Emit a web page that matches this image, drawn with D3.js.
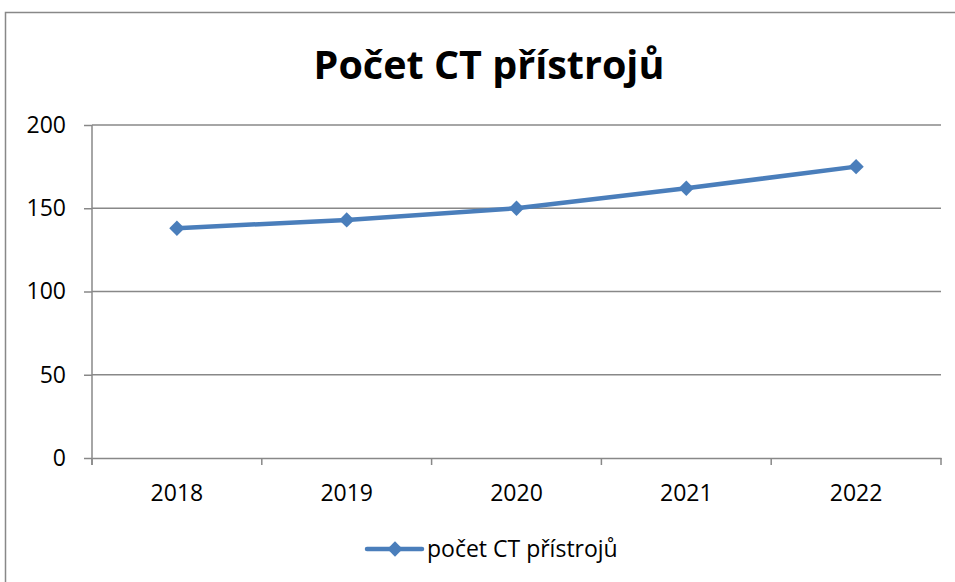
<!DOCTYPE html>
<html>
<head>
<meta charset="utf-8">
<script src="https://cdn.jsdelivr.net/npm/d3@7"></script>
<style>
  body { margin: 0; background: #fff; }
  svg { display: block; font-family: "Open Sans", sans-serif; }
</style>
</head>
<body>
<div id="chart"></div>
<script>
const years = ["2018", "2019", "2020", "2021", "2022"];
const counts = [138, 143, 150, 162, 175];
const yTicks = [0, 50, 100, 150, 200];
const seriesName = "počet CT přístrojů";
const chartTitle = "Počet CT přístrojů";

const W = 955, H = 582;
const margin = { top: 125, left: 92, bottom: 124, right: 14 };
const width = W - margin.left - margin.right;
const height = H - margin.top - margin.bottom;
const blue = "#4a7ebb";
const grey = "#888";
const font = "'Open Sans', sans-serif";

const svg = d3.select("#chart")
              .append("svg")
              .attr("width", W)
              .attr("height", H);

// outer chart border
svg.append("rect")
   .attr("x", 5.5)
   .attr("y", 12.5)
   .attr("width", W + 10)
   .attr("height", H + 10)
   .attr("fill", "none")
   .attr("stroke", grey)
   .attr("stroke-width", 1.5);

svg.append("text")
   .attr("x", 489)
   .attr("y", 79)
   .attr("text-anchor", "middle")
   .attr("font-size", "39.5px")
   .attr("font-weight", "bold")
   .text(chartTitle);

const g = svg.append("g")
             .attr("transform", `translate(${margin.left}, ${margin.top})`);

const xScale = d3.scaleBand()
                 .domain(years)
                 .range([0, width]);

const yScale = d3.scaleLinear()
                 .domain([0, 200])
                 .range([height, 0]);

// gridlines
g.append("g")
 .selectAll("line")
 .data(yTicks.filter(d => d > 0))
 .join("line")
 .attr("x1", 0)
 .attr("x2", width)
 .attr("y1", d => yScale(d))
 .attr("y2", d => yScale(d))
 .attr("stroke", grey)
 .attr("stroke-width", 1.5);

const yAxis = g.append("g")
               .call(d3.axisLeft(yScale).tickValues(yTicks).tickSize(8).tickPadding(18));

const xAxis = g.append("g")
               .attr("transform", `translate(0, ${height})`)
               .call(d3.axisBottom(xScale).tickSize(0).tickPadding(27));

// category boundary ticks like Excel
xAxis.selectAll(".sep")
     .data(years.map(d => xScale(d)).concat([width]))
     .join("line")
     .attr("class", "sep")
     .attr("x1", d => d)
     .attr("x2", d => d)
     .attr("y1", 0)
     .attr("y2", 7)
     .attr("stroke", grey)
     .attr("stroke-width", 1.5);

[yAxis, xAxis].forEach(a => {
    a.select(".domain").attr("stroke", grey).attr("stroke-width", 1.5);
    a.selectAll(".tick line").attr("stroke", grey).attr("stroke-width", 1.5);
    a.selectAll("text").attr("font-size", "23px").attr("fill", "#000")
     .attr("font-family", font);
});
yAxis.select(".domain").attr("d", `M0,${height + 7}V0`);

const line = d3.line()
               .x((d, i) => xScale(years[i]) + xScale.bandwidth() / 2)
               .y(d => yScale(d));

g.append("path")
 .datum(counts)
 .attr("d", line)
 .attr("fill", "none")
 .attr("stroke", blue)
 .attr("stroke-width", 4.5)
 .attr("stroke-linejoin", "round");

const diamond = d3.symbol().type(d3.symbolDiamond2).size(150);

g.selectAll(".pt")
 .data(counts)
 .join("path")
 .attr("class", "pt")
 .attr("d", diamond)
 .attr("transform", (d, i) => `translate(${xScale(years[i]) + xScale.bandwidth() / 2}, ${yScale(d)})`)
 .attr("fill", blue);

// legend
const lg = svg.append("g").attr("transform", "translate(367, 549)");
lg.append("line")
  .attr("x1", 0).attr("x2", 55)
  .attr("stroke", blue).attr("stroke-width", 4.5)
  .attr("stroke-linecap", "round");
lg.append("path")
  .attr("d", diamond)
  .attr("transform", "translate(28, 0)")
  .attr("fill", blue);
lg.append("text")
  .attr("x", 60)
  .attr("y", 8)
  .attr("font-size", "23px")
  .text(seriesName);
</script>
</body>
</html>
